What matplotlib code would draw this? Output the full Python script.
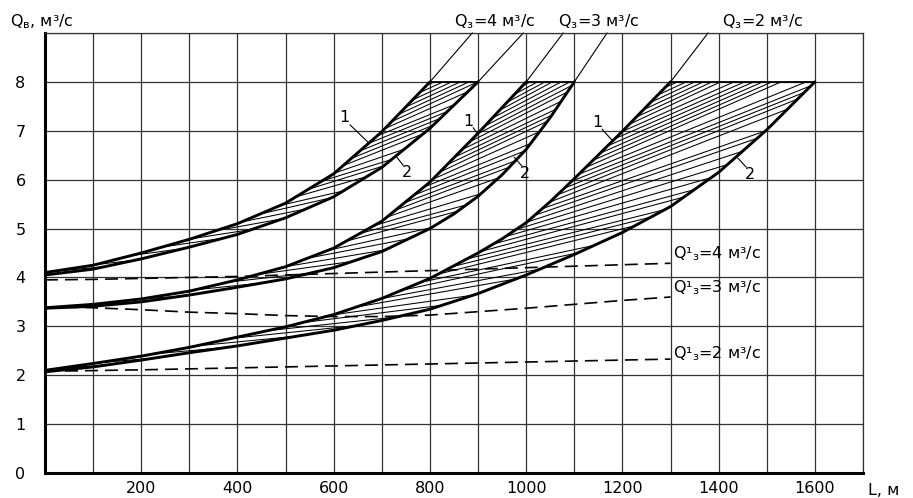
import numpy as np
import matplotlib.pyplot as plt
from matplotlib.patches import Polygon
from matplotlib.collections import LineCollection

plt.rcParams['font.family'] = ['DejaVu Sans']
plt.rcParams['mathtext.fontset'] = 'dejavusans'

# band Q3 = 4 m3/s : curve 1 (upper) and curve 2 (lower)
q4_x1 = [0, 100, 200, 300, 400, 500, 600, 700, 800]
q4_y1 = [4.1, 4.25, 4.5, 4.78, 5.1, 5.52, 6.12, 6.98, 8.0]
q4_x2 = [0, 100, 200, 300, 400, 500, 600, 700, 800, 900]
q4_y2 = [4.05, 4.17, 4.38, 4.62, 4.88, 5.22, 5.65, 6.25, 7.05, 8.0]

# band Q3 = 3 m3/s
q3_x1 = [0, 100, 200, 300, 400, 500, 600, 700, 800, 900, 1000]
q3_y1 = [3.38, 3.45, 3.56, 3.72, 3.95, 4.22, 4.6, 5.15, 5.95, 6.95, 8.0]
q3_x2 = [0, 100, 200, 300, 400, 500, 600, 700, 800, 850, 900, 950, 1000, 1050, 1100]
q3_y2 = [3.37, 3.41, 3.5, 3.64, 3.8, 3.97, 4.2, 4.53, 5.0, 5.3, 5.66, 6.1, 6.62, 7.27, 8.0]

# band Q3 = 2 m3/s
q2_x1 = [0, 100, 200, 300, 400, 500, 600, 700, 800, 900, 950, 1000, 1050, 1100, 1200, 1300]
q2_y1 = [2.1, 2.24, 2.39, 2.57, 2.78, 2.99, 3.24, 3.57, 3.98, 4.5, 4.79, 5.12, 5.55, 6.02, 6.99, 8.0]
q2_x2 = [0, 100, 200, 300, 400, 500, 600, 700, 800, 900, 1000, 1100, 1200, 1300, 1400, 1500, 1600]
q2_y2 = [2.07, 2.17, 2.31, 2.46, 2.6, 2.76, 2.92, 3.12, 3.35, 3.67, 4.05, 4.47, 4.92, 5.45, 6.15, 7.02, 8.0]

# dashed curves Q'3
qd_x = [0, 100, 200, 300, 400, 500, 600, 700, 800, 900, 1000, 1100, 1200, 1300]
qd4 = [3.95, 3.96, 3.98, 4.0, 4.02, 4.05, 4.08, 4.11, 4.14, 4.17, 4.2, 4.23, 4.26, 4.29]
qd3 = [3.4, 3.38, 3.34, 3.29, 3.26, 3.22, 3.2, 3.2, 3.23, 3.3, 3.37, 3.45, 3.53, 3.6]
qd2 = [2.08, 2.095, 2.11, 2.13, 2.15, 2.17, 2.19, 2.21, 2.23, 2.25, 2.27, 2.29, 2.31, 2.33]

# pixels per data unit (axes 818 x 440 px)
SX = 818 / 1700
SY = 440 / 9


def slope_at(y, yy, xx):
    # display slope of a curve x(y) at level y
    dx = np.interp(y + 0.05, yy, xx) - np.interp(y - 0.05, yy, xx)
    return (0.1 * SY) / (dx * SX + 1e-9)


def hatch_band(ax, xa, ya, xb, yb, k=0.55, gap=4.0):
    xa, ya, xb, yb = map(np.asarray, (xa, ya, xb, yb))
    top = ya[-1]
    verts = np.column_stack([np.r_[xa, xb[::-1]], np.r_[ya, yb[::-1]]])
    patch = Polygon(verts, closed=True, fc='none', ec='none')
    ax.add_patch(patch)
    segs = []
    y0 = ya[0] + 0.02
    while y0 < top - 0.02:
        x0 = np.interp(y0, ya, xa)
        s1 = slope_at(y0, ya, xa)
        s2 = slope_at(y0, yb, xb)
        ang = 0.5 * (np.arctan(s1) + np.arctan(s2))
        m = np.tan(k * ang)
        segs.append([(x0, y0), (x0 + 1200, y0 + m * 1200 * SX / SY)])
        g = max(1 - m / s1, 0.25)
        y0 += gap / g / SY
    lc = LineCollection(segs, colors='k', linewidths=0.75)
    lc.set_clip_path(patch)
    ax.add_collection(lc, autolim=False)


fig = plt.figure(figsize=(9.13, 4.98), dpi=100)
ax = fig.add_axes([45 / 913, 25 / 498, 818 / 913, 440 / 498])

bands = [(q4_x1, q4_y1, q4_x2, q4_y2),
         (q3_x1, q3_y1, q3_x2, q3_y2),
         (q2_x1, q2_y1, q2_x2, q2_y2)]
for xa, ya, xb, yb in bands:
    hatch_band(ax, xa, ya, xb, yb)
    ax.plot(xa, ya, color='k', lw=2.1, solid_capstyle='round', solid_joinstyle='round')
    ax.plot(xb, yb, color='k', lw=2.1, solid_capstyle='round', solid_joinstyle='round')
    ax.plot([xa[-1], xb[-1]], [ya[-1], yb[-1]], color='k', lw=1.3)

for yd in (qd4, qd3, qd2):
    ax.plot(qd_x, yd, color='k', lw=1.2, dashes=(7.8, 4.2))

# leaders to the Q3 labels
for xt, xe, ye in [(888, q4_x1[-1], 8), (994, q4_x2[-1], 8),
                   (1077, q3_x1[-1], 8), (1168, q3_x2[-1], 8),
                   (1378, q2_x1[-1], 8)]:
    ax.plot([xe, xt], [ye, 9], color='k', lw=0.8, clip_on=False)

fs = 11.5
ax.text(935, 9.24, 'Q$_\\mathregular{з}$=4 м³/с', ha='center', va='center', fontsize=fs)
ax.text(1151, 9.24, 'Q$_\\mathregular{з}$=3 м³/с', ha='center', va='center', fontsize=fs)
ax.text(1492, 9.24, 'Q$_\\mathregular{з}$=2 м³/с', ha='center', va='center', fontsize=fs)

ax.text(1305, 4.48, 'Q¹$_\\mathregular{з}$=4 м³/с', ha='left', va='center', fontsize=fs)
ax.text(1305, 3.80, 'Q¹$_\\mathregular{з}$=3 м³/с', ha='left', va='center', fontsize=fs)
ax.text(1305, 2.45, 'Q¹$_\\mathregular{з}$=2 м³/с', ha='left', va='center', fontsize=fs)

# curve numbers with leaders
marks = [('1', 623, 7.27, (634, 7.12), (673, 6.75)),
         ('2', 752, 6.15, (731, 6.46), (744, 6.30)),
         ('1', 879, 7.18, (890, 7.06), (900, 6.93)),
         ('2', 998, 6.13, (975, 6.46), (991, 6.28)),
         ('1', 1149, 7.16, (1158, 7.03), (1180, 6.79)),
         ('2', 1465, 6.11, (1440, 6.44), (1457, 6.26))]
for s, tx, ty, p0, p1 in marks:
    ax.text(tx, ty, s, ha='center', va='center', fontsize=fs)
    ax.plot([p0[0], p1[0]], [p0[1], p1[1]], color='k', lw=0.8)

ax.set_xlim(0, 1700)
ax.set_ylim(0, 9)
ax.set_xticks(np.arange(0, 1701, 100))
ax.set_xticklabels(['' if (v % 200 or v == 0 or v == 1700) else str(v)
                    for v in range(0, 1701, 100)])
ax.set_yticks(np.arange(0, 10))
ax.set_yticklabels([str(v) for v in range(9)] + [''])
ax.tick_params(length=0, labelsize=fs)
ax.tick_params(axis='x', pad=6)
ax.tick_params(axis='y', pad=14)
ax.grid(True, color='#333333', lw=0.9)
ax.set_axisbelow(True)
for side in ('top', 'right'):
    ax.spines[side].set_linewidth(0.9)
    ax.spines[side].set_color('#333333')
for side in ('left', 'bottom'):
    ax.spines[side].set_linewidth(2.2)

fig.text(10 / 913, 1 - 22 / 498, 'Q$_\\mathregular{в}$, м³/с', ha='left', va='center', fontsize=fs)
fig.text(868 / 913, 1 - 490 / 498, 'L, м', ha='left', va='center', fontsize=fs)

fig.savefig('out.png', dpi=100)
